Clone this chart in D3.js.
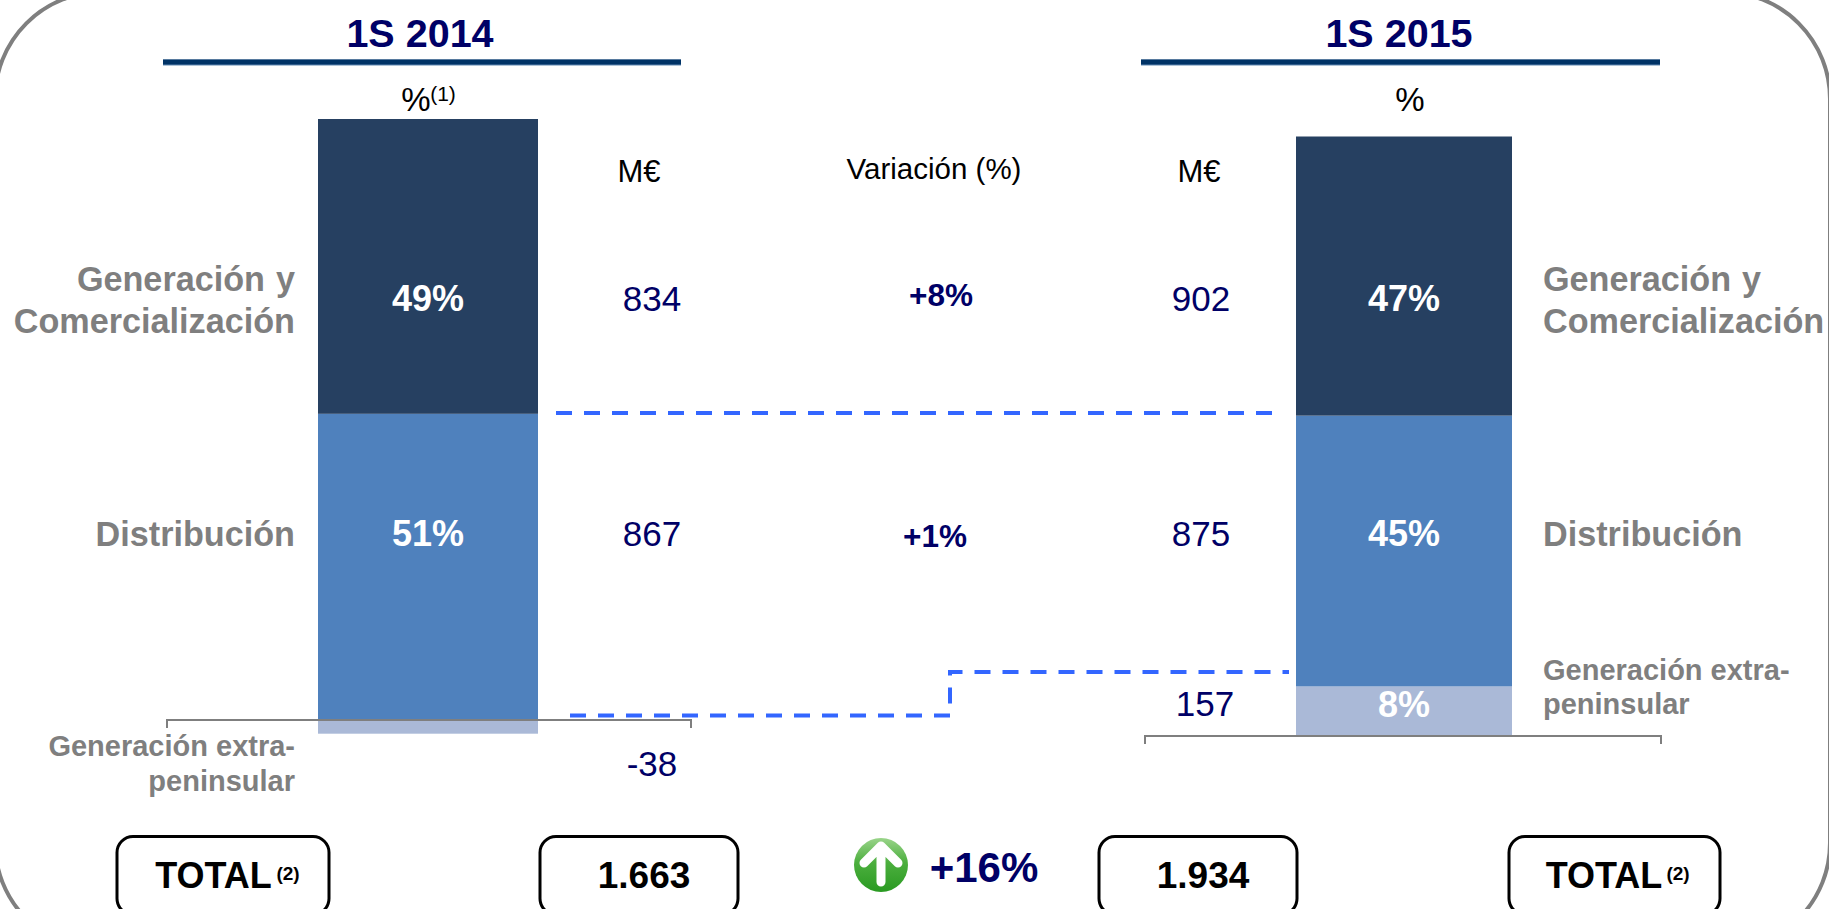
<!DOCTYPE html>
<html><head><meta charset="utf-8">
<script src="https://cdn.jsdelivr.net/npm/d3@7"></script>
<style>html,body{margin:0;padding:0;background:#fff;overflow:hidden}svg{display:block}text{font-family:"Liberation Sans",Arial,sans-serif}</style>
</head><body><svg id="c" width="1829" height="909"></svg>
<script>
const periods = ["1S 2014", "1S 2015"];
const segments = ["Generación y Comercialización", "Distribución", "Generación extra-peninsular"];
const values2014 = [834, 867, -38];
const values2015 = [902, 875, 157];
const pctLabels2014 = ["49%", "51%", ""];
const pctLabels2015 = ["47%", "45%", "8%"];
const variations = ["+8%", "+1%"];
const totals = ["1.663", "1.934"];
const totalChange = "+16%";
const colors = ["#264061", "#4F81BD", "#AAB9D7"];

const svg = d3.select("#c");
const NAVY = "#000066", GRAY = "#7F7F7F";

// scales
const x = d3.scalePoint().domain(periods).range([428, 1404]);
const barW = d3.scaleOrdinal().domain(periods).range([220, 216]);
const y14 = d3.scaleLinear().domain([-38, 1701]).range([733.7, 119]);
const y15 = d3.scaleLinear().domain([0, 1934]).range([735, 136.5]);

function stackRows(vals, labels) {
  let pos = 0, rows = [];
  for (let i = vals.length - 1; i >= 0; i--) {
    const v = vals[i];
    if (v < 0) rows.push({i, v, y0: v, y1: 0, label: labels[i]});
    else { rows.push({i, v, y0: pos, y1: pos + v, label: labels[i]}); pos += v; }
  }
  return rows;
}
const labelRowY = [311, 546, 717];
function drawBar(period, vals, labels, y) {
  const cx = x(period), w = barW(period);
  const g = svg.append("g");
  const rows = stackRows(vals, labels);
  g.selectAll("rect").data(rows).join("rect")
    .attr("x", cx - w / 2).attr("width", w)
    .attr("y", d => y(d.y1)).attr("height", d => y(d.y0) - y(d.y1))
    .attr("fill", d => colors[d.i]);
  g.selectAll("text").data(rows.filter(d => d.label)).join("text")
    .attr("x", cx).attr("y", d => labelRowY[d.i])
    .attr("text-anchor", "middle").attr("fill", "#fff")
    .attr("font-weight", "bold").attr("font-size", 36).text(d => d.label);
}

// outer frame
svg.append("rect").attr("x", -5).attr("y", -8).attr("width", 1835).attr("height", 958).attr("rx", 107)
  .attr("fill", "none").attr("stroke", GRAY).attr("stroke-width", 4);

drawBar(periods[0], values2014, pctLabels2014, y14);
drawBar(periods[1], values2015, pctLabels2015, y15);

function txt(t, px, py, size, fill, anchor, weight) {
  return svg.append("text").attr("x", px).attr("y", py).attr("font-size", size).attr("fill", fill)
    .attr("text-anchor", anchor || "middle").attr("font-weight", weight || "normal").text(t);
}

// headers
[[163, 681, 420], [1141, 1660, 1399]].forEach(([a, b, c], i) => {
  svg.append("rect").attr("x", a).attr("y", 59.5).attr("width", b - a).attr("height", 6).attr("fill", "#5F87B0");
  svg.append("rect").attr("x", a).attr("y", 59.5).attr("width", b - a).attr("height", 5).attr("fill", "#003366");
  txt(periods[i], c, 47, 39.5, NAVY, "middle", "bold");
});

// units
txt("%", 416, 111, 33, "#000");
txt("(1)", 443, 101, 21, "#000");
txt("%", 1410, 111, 33, "#000");
txt("M€", 639, 182, 31, "#000");
txt("M€", 1199, 182, 31, "#000");
txt("Variación (%)", 934, 179, 29.5, "#000");

// values
const rowY = [311, 546];
txt(values2014[0], 652, rowY[0], 35, NAVY);
txt(values2014[1], 652, rowY[1], 35, NAVY);
txt(values2014[2], 652, 776, 35, NAVY);
txt(values2015[0], 1201, rowY[0], 35, NAVY);
txt(values2015[1], 1201, rowY[1], 35, NAVY);
txt(values2015[2], 1205, 716, 35, NAVY);
txt(variations[0], 941, 306, 31.5, NAVY, "middle", "bold");
txt(variations[1], 935, 547, 31.5, NAVY, "middle", "bold");

// side labels
[[295, "end"], [1543, "start"]].forEach(([px, a]) => {
  txt("Generación y", px, 291, 34.2, GRAY, a, "bold").attr("word-spacing", 1.5);
  txt("Comercialización", px, 333, 34.2, GRAY, a, "bold");
  txt(segments[1], px, 546, 34.2, GRAY, a, "bold");
});
txt("Generación extra-", 295, 756, 29, GRAY, "end", "bold");
txt("peninsular", 295, 791, 29, GRAY, "end", "bold");
txt("Generación extra-", 1543, 680, 29, GRAY, "start", "bold");
txt("peninsular", 1543, 714, 29, GRAY, "start", "bold");

// dashed connectors
const dash = svg.append("g").attr("fill", "none").attr("stroke", "#3366FF").attr("stroke-width", 4).attr("stroke-dasharray", "16 12");
dash.append("path").attr("d", "M556,413H1274");
dash.append("path").attr("d", "M570,715.5H950V672H1289");

// brackets
const br = svg.append("g").attr("fill", "none").attr("stroke", GRAY).attr("stroke-width", 2);
br.append("path").attr("d", "M167,728V720H691V728");
br.append("path").attr("d", "M1145,744V736H1661V744");

// total boxes
[[117, 329], [540, 738], [1099, 1297], [1509, 1720]].forEach(([a, b]) => {
  svg.append("rect").attr("x", a).attr("y", 836.5).attr("width", b - a).attr("height", 78).attr("rx", 16)
    .attr("fill", "#fff").attr("stroke", "#000").attr("stroke-width", 3);
});
function totalLabel(cx, supX) {
  txt("TOTAL", cx, 888, 36, "#000", "middle", "bold");
  txt("(2)", supX, 880, 19, "#000", "middle", "bold");
}
totalLabel(213.5, 288);
totalLabel(1604, 1678);
txt(totals[0], 644, 888, 37, "#000", "middle", "bold");
txt(totals[1], 1203, 888, 37, "#000", "middle", "bold");

// arrow icon
const defs = svg.append("defs");
const gr = defs.append("linearGradient").attr("id", "gg").attr("x1", 0).attr("y1", 0).attr("x2", 0).attr("y2", 1);
gr.append("stop").attr("offset", "0%").attr("stop-color", "#9AD48A");
gr.append("stop").attr("offset", "45%").attr("stop-color", "#4CAF3E");
gr.append("stop").attr("offset", "100%").attr("stop-color", "#2A9A22");
svg.append("circle").attr("cx", 881).attr("cy", 865).attr("r", 27).attr("fill", "url(#gg)");
svg.append("path").attr("d", "M864,863L881,846L898,863M881,848V882")
  .attr("fill", "none").attr("stroke", "#fff").attr("stroke-width", 9).attr("stroke-linecap", "round").attr("stroke-linejoin", "round");
txt(totalChange, 984, 882, 42, NAVY, "middle", "bold");
</script></body></html>
